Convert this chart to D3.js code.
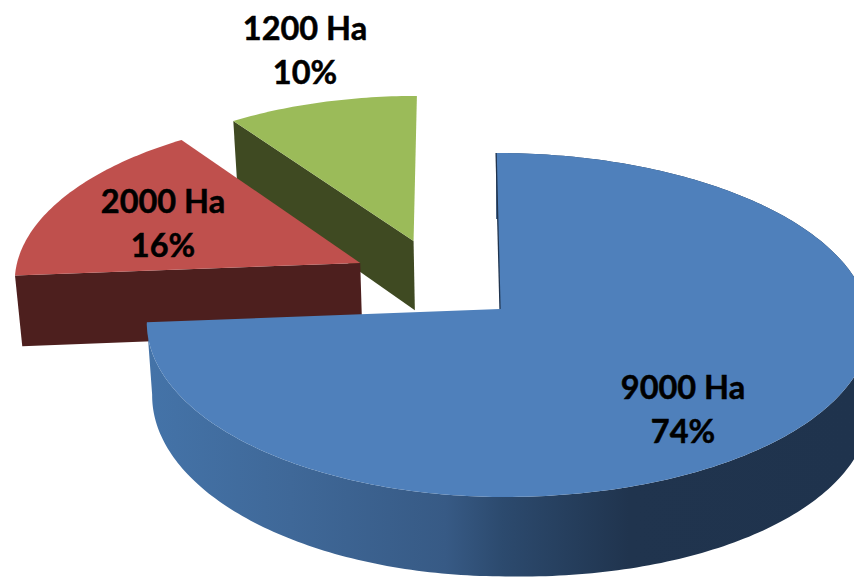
<!DOCTYPE html>
<html>
<head>
<meta charset="utf-8">
<script src="https://cdn.jsdelivr.net/npm/d3@7/dist/d3.min.js"></script>
<style>
  html, body { margin: 0; padding: 0; background: #fff; overflow: hidden; }
  svg { display: block; }
  text { font-family: Lato, "Open Sans", sans-serif; font-weight: 700; fill: #000; stroke: #000; stroke-width: 0.5px; text-anchor: middle; dominant-baseline: central; }
</style>
</head>
<body>
<svg id="chart" width="854" height="577"></svg>
<script>
// Land area per category, in hectares, in clockwise order from twelve o'clock
const areas = [9000, 2000, 1200];
const unit = "Ha";

// Colours of each slice
const topColors = ["#4f80bb", "#bf504d", "#9bbb59"];
const wallColors = ["url(#blueWall)", "#4d1f1e", "#3f4a22"];

// How far each slice is pulled out of the pie, in units of its radius
const explodeU = [0, -0.404, -0.25];
const explodeV = [0, -0.277, -0.414];

// Label anchors in pixels
const labelX = [683, 163, 305];
const labelY = [386, 200, 27];

const width = 854, height = 577;
const centerX = 500, centerY = 309;
const perspective = 0.093;   // foreshortening along the viewing direction
const lean = 0.025;          // the camera sits slightly off axis, so far points drift left
const wallDepth = 72;        // thickness of the disc in pixels
const wallFlare = 8;         // extra thickness towards the right-hand side
const wallConverge = 0.985;  // lower rim on the left is pulled towards the centre
const lineGap = 44, fontSize = 32.5;

// The right half of the disc sits nearer the viewer, so it spreads a little wider
const xScale = d3.scaleLinear().domain([-1, 0, 1]).range([centerX - 352, centerX, centerX + 368]);
const yScale = d3.scaleLinear().domain([-1, 1]).range([centerY - 170.5, centerY + 170.5]);

// Point on the disc plane to screen, at the top face or the lower rim
function project(u, v, lower) {
  const s = 1 / (1 - perspective * v);
  const y = yScale(v * s);
  const x = xScale(u * s) + lean * (y - centerY);
  if (!lower) return [x, y];
  const lowX = x < centerX ? centerX + (x - centerX) * wallConverge : x;
  return [lowX, y + (wallDepth + wallFlare * Math.max(u, 0)) * s];
}

const pie = d3.pie().sort(null).startAngle(0).endAngle(2 * Math.PI);
const slices = pie(areas);
const total = d3.sum(areas);
const line = d3.line();

// Sample the rim of a slice between two angles
function rim(slice, i, lower) {
  const n = Math.max(2, Math.ceil((slice.endAngle - slice.startAngle) * 60));
  return d3.range(n + 1).map(k => {
    const a = slice.startAngle + (slice.endAngle - slice.startAngle) * k / n;
    return project(explodeU[i] + Math.sin(a), explodeV[i] - Math.cos(a), lower);
  });
}

const svg = d3.select("#chart");

// Side of the large slice darkens towards the right
const wallScale = d3.scaleLinear().domain([0, 1]).range([150, 854]);
const grad = svg.append("defs").append("linearGradient")
  .attr("id", "blueWall")
  .attr("gradientUnits", "userSpaceOnUse")
  .attr("x1", wallScale(0)).attr("x2", wallScale(1)).attr("y1", 0).attr("y2", 0);
[[0, "#4473a8"], [0.2, "#3f6898"], [0.42, "#375a85"], [0.5, "#2c4a6e"], [0.68, "#20344e"], [1, "#1f334d"]]
  .forEach(([o, c]) => grad.append("stop").attr("offset", o).attr("stop-color", c));

// Slices are painted back to front: green, red, then blue
const order = [2, 1, 0];
order.forEach(i => {
  const d = slices[i];
  const g = svg.append("g");
  const apexTop = project(explodeU[i], explodeV[i], false);
  const apexLow = project(explodeU[i], explodeV[i], true);
  const top = rim(d, i, false), low = rim(d, i, true);

  if (i === 0) {
    // Curved outer wall, only seen on the slice that faces the viewer
    g.append("path")
      .attr("d", line(top.concat(low.slice().reverse())) + "Z")
      .attr("fill", wallColors[i]);
  } else {
    // Flat cut face along the slice's opening edge
    g.append("path")
      .attr("d", line([apexTop, top[0], low[0], apexLow]) + "Z")
      .attr("fill", wallColors[i]);
  }
  // Top face
  g.append("path")
    .attr("d", line([apexTop].concat(top)) + "Z")
    .attr("fill", topColors[i]);
});

// Hairline of the large slice's opening edge
const first = rim(slices[0], 0, false)[0];
svg.append("path")
  .attr("d", line([first, project(0, 0, false)]))
  .attr("stroke", "#20344e").attr("stroke-width", 1.3).attr("fill", "none");

// Value and share labels
const pct = d3.format(".0%");
slices.forEach((d, i) => {
  svg.append("text").attr("x", labelX[i]).attr("y", labelY[i])
    .attr("font-size", fontSize).text(`${d.value} ${unit}`);
  svg.append("text").attr("x", labelX[i]).attr("y", labelY[i] + lineGap)
    .attr("font-size", fontSize).text(pct(d.value / total));
});
</script>
</body>
</html>
